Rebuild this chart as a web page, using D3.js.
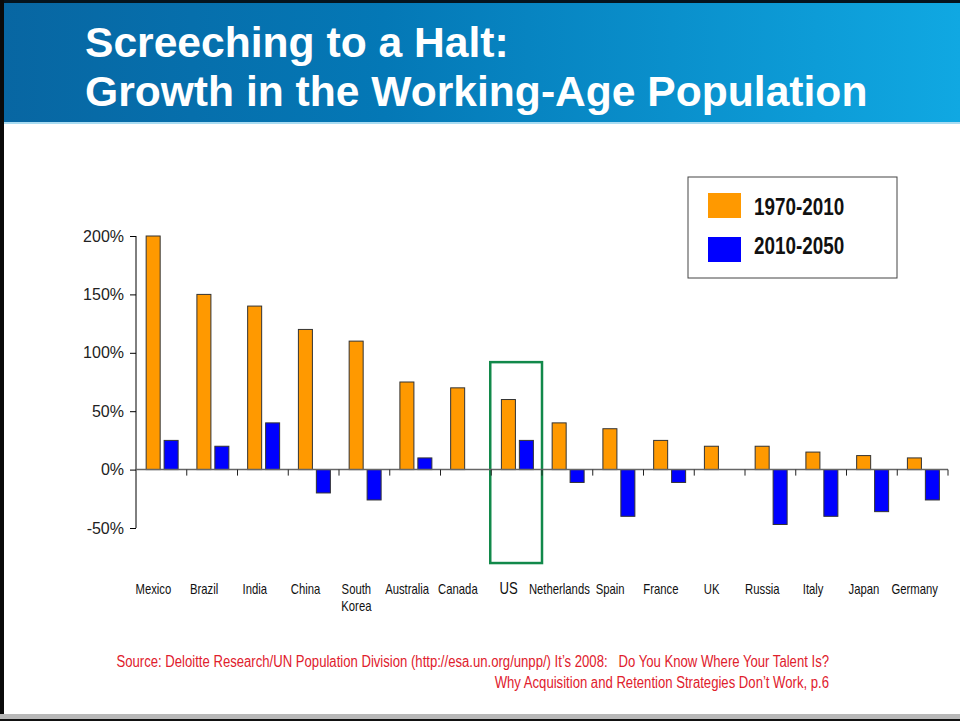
<!DOCTYPE html>
<html>
<head>
<meta charset="utf-8">
<script src="https://cdn.jsdelivr.net/npm/d3@7"></script>
<style>
	body { margin: 0; background: #fff; }
	svg { display: block; }
</style>
</head>
<body>
<script>
//data
var countries = ['Mexico', 'Brazil', 'India', 'China', 'South Korea', 'Australia', 'Canada', 'US',
	'Netherlands', 'Spain', 'France', 'UK', 'Russia', 'Italy', 'Japan', 'Germany'];
var growth7010 = [200, 150, 140, 120, 110, 75, 70, 60, 40, 35, 25, 20, 20, 15, 12, 10];
var growth1050 = [25, 20, 40, -20, -26, 10, 0, 25, -11, -40, -11, 0, -47, -40, -36, -26];
var seriesNames = ['1970-2010', '2010-2050'];
var yTicks = [-50, 0, 50, 100, 150, 200];
var highlight = 'US';

//namespace for common vars
var fv = {
	'width': 960,
	'height': 721,
	'plotLeft': 136,
	'plotRight': 948,
	'colors': ['#ff9900', '#0000ff'],
	'narrowX': 0.82, //no narrow face installed, so squeeze the regular one
	'sans': '"Liberation Sans", Arial, sans-serif'
};

function narrow(x, y) {
	return 'translate(' + x + ',' + y + ') scale(' + fv.narrowX + ',1)';
}

var svg = d3.select('body').append('svg')
	.attr('width', fv.width)
	.attr('height', fv.height);

var defs = svg.append('defs');
var grad = defs.append('linearGradient').attr('id', 'hdr')
	.attr('x1', '0%').attr('x2', '100%').attr('y1', '0%').attr('y2', '0%');
grad.append('stop').attr('offset', '0%').attr('stop-color', '#0866a2');
grad.append('stop').attr('offset', '40%').attr('stop-color', '#0478b6');
grad.append('stop').attr('offset', '100%').attr('stop-color', '#10a8e2');

//-----------------------------------------------------frame + header
svg.append('rect').attr('width', fv.width).attr('height', fv.height).style('fill', '#fff');
svg.append('rect').attr('x', 0).attr('y', 0).attr('width', fv.width).attr('height', 122).style('fill', 'url(#hdr)');
svg.append('rect').attr('x', 0).attr('y', 122).attr('width', fv.width).attr('height', 2).style('fill', '#a9dcf2');
svg.append('rect').attr('x', 0).attr('y', 0).attr('width', fv.width).attr('height', 3).style('fill', '#05141e');
svg.append('rect').attr('x', 0).attr('y', 0).attr('width', 4).attr('height', fv.height).style('fill', '#0a0a0a');
svg.append('rect').attr('x', 0).attr('y', 714).attr('width', fv.width).attr('height', 5).style('fill', '#b8b8b8');
svg.append('rect').attr('x', 0).attr('y', 719).attr('width', fv.width).attr('height', 2).style('fill', '#111');

var title = svg.append('text')
	.style('font-family', fv.sans)
	.style('font-weight', 'bold')
	.style('font-size', '42.6px')
	.style('fill', '#fff');
title.append('tspan').attr('x', 85).attr('y', 57).text('Screeching to a Halt:');
title.append('tspan').attr('x', 85).attr('y', 106).text('Growth in the Working-Age Population');

//-----------------------------------------------------scales
var x = d3.scaleBand()
	.domain(countries)
	.range([fv.plotLeft, fv.plotRight])
	.padding(0);

var xs = d3.scaleBand()
	.domain(seriesNames)
	.range([x.bandwidth() * 0.2, x.bandwidth() * 0.83])
	.paddingInner(0.22);

var y = d3.scaleLinear()
	.domain([-50, 200])
	.range([528, 236]);

//-----------------------------------------------------highlight box
svg.append('rect')
	.attr('x', x(highlight) - 1)
	.attr('y', y(92))
	.attr('width', x.bandwidth() + 1)
	.attr('height', y(-80) - y(92))
	.style('fill', 'none')
	.style('stroke', '#12894a')
	.style('stroke-width', 2.5);

//-----------------------------------------------------bars
var rows = countries.map(function(c, i) {
	return { country: c, values: [growth7010[i], growth1050[i]] };
});

var groups = svg.append('g').selectAll('.grp')
	.data(rows)
	.enter().append('g')
	.attr('class', 'grp')
	.attr('transform', function(d) { return 'translate(' + x(d.country) + ',0)'; });

groups.selectAll('rect')
	.data(function(d) {
		return d.values.map(function(v, j) { return { series: seriesNames[j], value: v, j: j }; })
			.filter(function(e) { return e.value !== 0; });
	})
	.enter().append('rect')
	.attr('x', function(d) { return xs(d.series); })
	.attr('width', xs.bandwidth())
	.attr('y', function(d) { return y(Math.max(0, d.value)); })
	.attr('height', function(d) { return Math.abs(y(d.value) - y(0)); })
	.style('fill', function(d) { return fv.colors[d.j]; })
	.style('stroke', '#333')
	.style('stroke-width', 1);

//-----------------------------------------------------axes
var yAxis = svg.append('g')
	.attr('transform', 'translate(' + fv.plotLeft + ',0)')
	.call(d3.axisLeft(y).tickValues(yTicks).tickSize(6).tickPadding(6)
		.tickFormat(function(d) { return d + '%'; }));
yAxis.select('.domain').attr('d', 'M0,' + y(-50) + 'V' + y(200)).style('stroke', '#000');
yAxis.selectAll('.tick line').style('stroke', '#000');
yAxis.selectAll('text')
	.style('font-family', fv.sans)
	.style('font-size', '16px')
	.style('fill', '#222');

var xAxis = svg.append('g').attr('transform', 'translate(0,' + y(0) + ')');
xAxis.append('line')
	.attr('x1', fv.plotLeft).attr('x2', fv.plotRight)
	.style('stroke', '#666').style('stroke-width', 1.5);
xAxis.selectAll('.xt')
	.data(countries)
	.enter().append('line')
	.attr('x1', function(d) { return x(d) + x.bandwidth(); })
	.attr('x2', function(d) { return x(d) + x.bandwidth(); })
	.attr('y1', 0).attr('y2', 6)
	.style('stroke', '#222');

//category labels, slightly left of band centre as on the slide
var labels = svg.append('g').selectAll('.lbl')
	.data(countries)
	.enter().append('text')
	.attr('class', 'lbl')
	.attr('text-anchor', 'middle')
	.attr('transform', function(d) { return narrow(x(d) + x.bandwidth() / 2 - 8, 594); })
	.style('font-family', fv.sans)
	.style('font-size', function(d) { return d === highlight ? '16px' : '13.8px'; })
	.style('fill', '#111');
labels.each(function(d) {
	var t = d3.select(this);
	var parts = d === 'South Korea' ? ['South', 'Korea'] : [d];
	parts.forEach(function(p, k) {
		t.append('tspan').attr('x', 0).attr('dy', k === 0 ? 0 : 17).text(p);
	});
});

//-----------------------------------------------------legend
var legend = svg.append('g');
legend.append('rect')
	.attr('x', 688).attr('y', 177).attr('width', 209).attr('height', 101)
	.style('fill', '#fff').style('stroke', '#444').style('stroke-width', 1);
seriesNames.forEach(function(s, i) {
	legend.append('rect')
		.attr('x', 708).attr('y', 193 + i * 44)
		.attr('width', 33).attr('height', 25)
		.style('fill', fv.colors[i]);
	legend.append('text')
		.attr('transform', narrow(754, 215 + i * 39))
		.style('font-family', fv.sans)
		.style('font-weight', 'bold')
		.style('font-size', '23px')
		.style('fill', '#111')
		.text(s);
});

//-----------------------------------------------------source
var srcLines = [
	'Source: Deloitte Research/UN Population Division (http://esa.un.org/unpp/) It\u2019s 2008:\u00a0\u00a0\u00a0Do You Know Where Your Talent Is?',
	'Why Acquisition and Retention Strategies Don\u2019t Work, p.6'
];
srcLines.forEach(function(line, i) {
	svg.append('text')
		.attr('text-anchor', 'end')
		.attr('transform', narrow(829, 667 + i * 21))
		.style('font-family', fv.sans)
		.style('font-size', '16px')
		.style('fill', '#e0202c')
		.text(line);
});
</script>
</body>
</html>
